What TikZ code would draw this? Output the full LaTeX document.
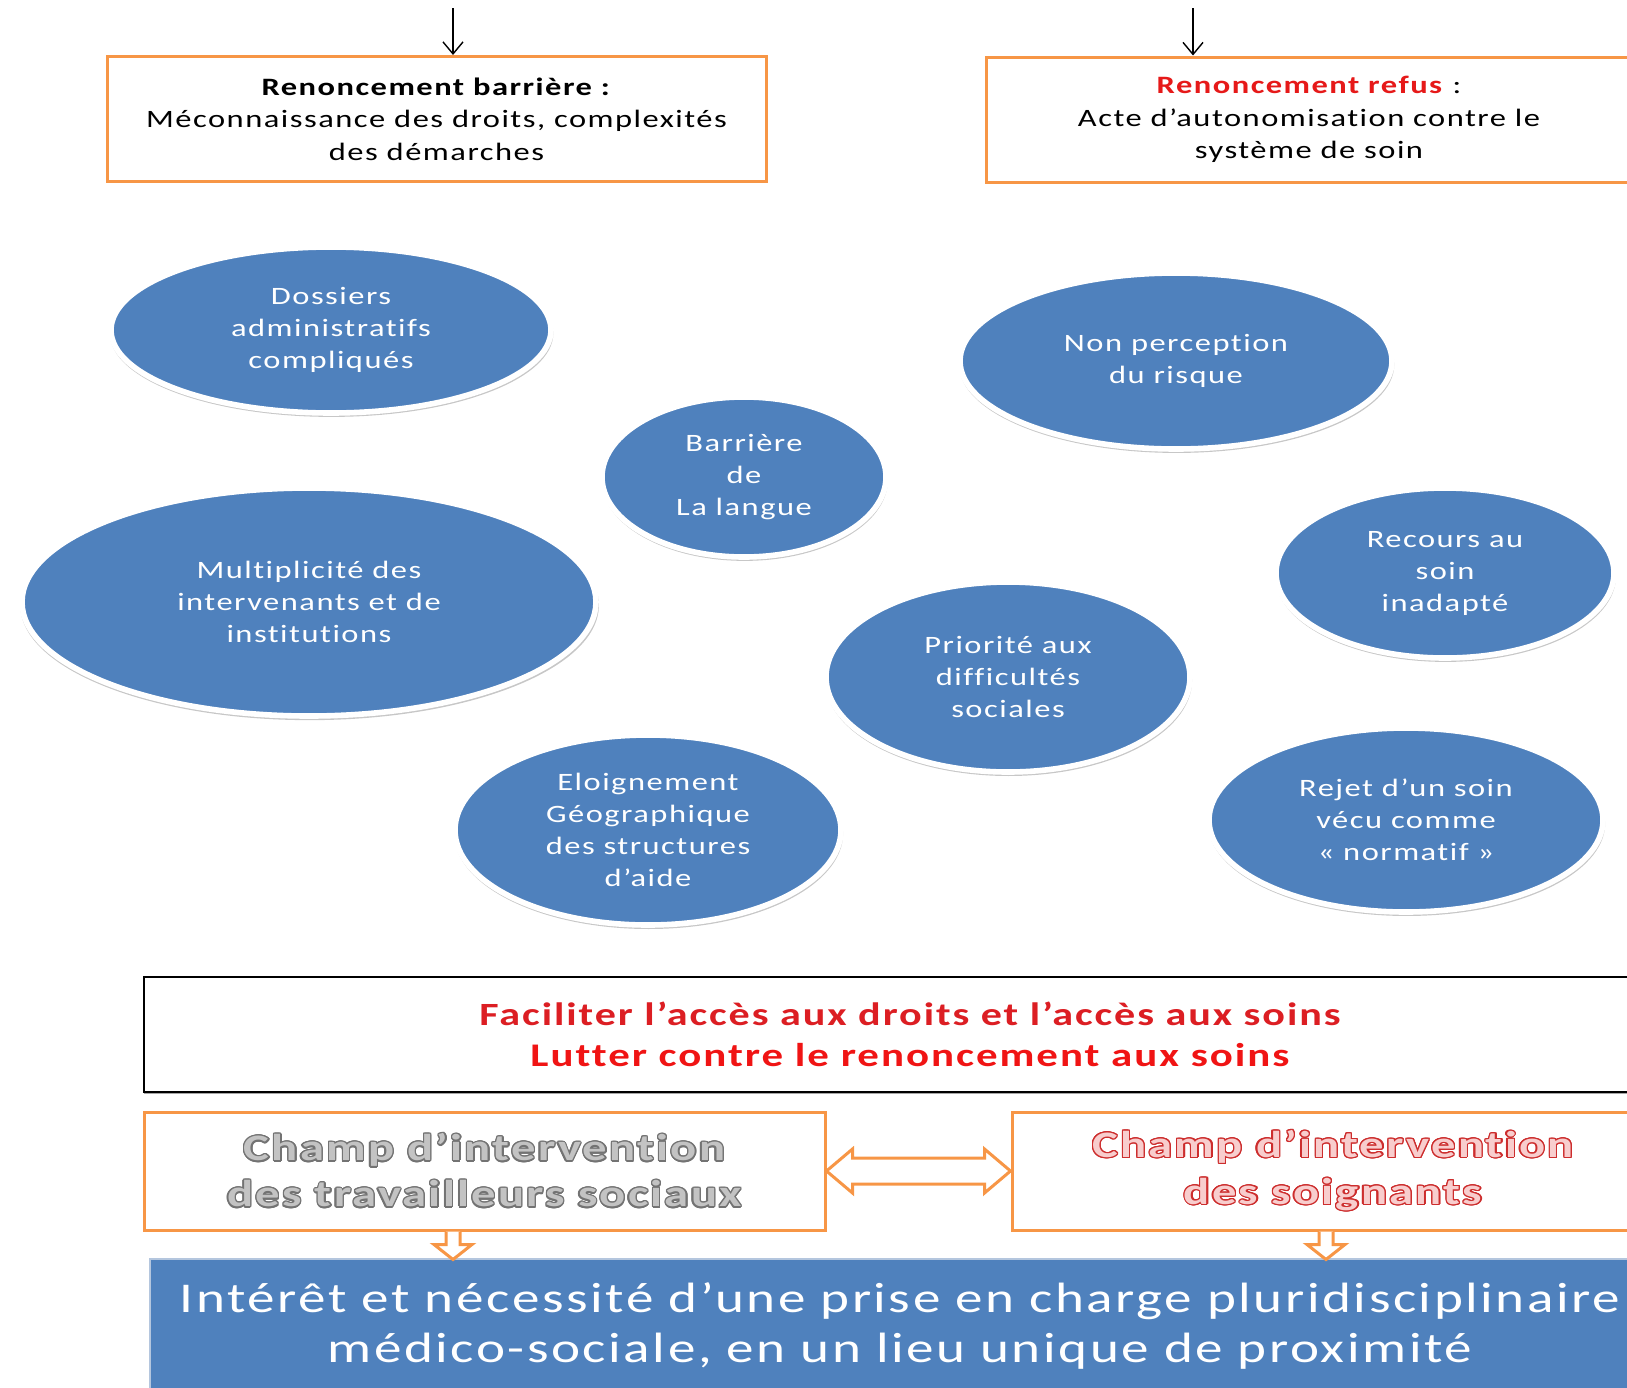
\documentclass[tikz,border=0pt]{standalone}
\usepackage{fontspec}
\setmainfont{Carlito}[FakeStretch=1.3,LetterSpace=6,Ligatures={NoCommon,NoRare,NoContextual}]
\usepackage{contour}
\contourlength{0.65pt}
\usetikzlibrary{shapes.geometric,shadows,arrows.meta,calc}
\definecolor{obblue}{RGB}{79,129,189}
\definecolor{oorange}{RGB}{247,150,70}
\definecolor{ored}{RGB}{230,25,25}
\definecolor{ored2}{RGB}{220,30,35}
\definecolor{ored3}{RGB}{240,20,20}
\definecolor{cgrayin}{RGB}{195,195,195}
\definecolor{cgrayout}{RGB}{115,115,115}
\definecolor{credin}{RGB}{248,205,205}
\definecolor{credout}{RGB}{205,45,45}
\definecolor{rimblue}{RGB}{180,198,222}
\newcommand\ellfont{\fontsize{12.5}{16}\selectfont}
\newcommand\boxfont{\fontsize{12.5}{16.2}\selectfont}
\tikzset{
  obox/.style={draw=oorange,line width=1.5pt,fill=white,align=center,inner sep=2pt,font=\boxfont},
  blob/.style={ellipse,fill=obblue,draw=white,line width=2.8pt,
    drop shadow={shadow xshift=0.3pt,shadow yshift=-1.6pt,shadow scale=1.008,opacity=0.22,fill=black},
    text=white,align=center,inner sep=0pt,font=\ellfont},
  toparr/.style={line width=0.7pt,-{Straight Barb[length=6pt,width=10pt]}},
  harrow/.style={draw=oorange,fill=white,line width=1.5pt,line join=miter},
}
\begin{document}
\begin{tikzpicture}[x=0.5pt,y=-0.5pt]
\useasboundingbox (0,0) rectangle (1627,1387);
\clip (0,0) rectangle (1627,1387);

% top boxes
\node[obox,minimum width=329.5pt,minimum height=62.5pt] (b1) at (436.5,119)
  {\textbf{Renoncement barrière :}\\Méconnaissance des droits, complexités\\des démarches};
\node[obox,minimum width=323pt,minimum height=62.5pt] (b2) at (1309,119.5)
  {{\color{ored}\textbf{Renoncement refus}} :\\Acte d’autonomisation contre le\\système de soin};
\coordinate (t1) at (453,8);
\coordinate (t2) at (1193,8);
\draw[toparr] (t1) -- (t1 |- b1.north);
\draw[toparr] (t2) -- (t2 |- b2.north);

% ellipses
\node[blob,minimum width=220pt,minimum height=83pt] (e1) at (331,330) {Dossiers\\administratifs\\compliqués};
\node[blob,minimum width=216pt,minimum height=88pt] (e2) at (1176,361) {Non perception\\du risque};
\node[blob,minimum width=142pt,minimum height=80pt] (e3) at (744,477) {Barrière\\de\\La langue};
\node[blob,minimum width=287pt,minimum height=114pt] (e4) at (309,602) {Multiplicité des\\intervenants et de\\institutions};
\node[blob,minimum width=169pt,minimum height=85pt] (e5) at (1445,573) {Recours au\\soin\\inadapté};
\node[blob,minimum width=182pt,minimum height=95pt] (e6) at (1008,677) {Priorité aux\\difficultés\\sociales};
\node[blob,minimum width=193pt,minimum height=95pt] (e7) at (648,830) {Eloignement\\Géographique\\des structures\\d’aide};
\node[blob,minimum width=197pt,minimum height=92pt] (e8) at (1406,820) {Rejet d’un soin\\vécu comme\\«~normatif~»};

% goal box
\node[draw=black,line width=0.8pt,fill=white,
  drop shadow={shadow xshift=0pt,shadow yshift=-1.2pt,opacity=0.35,fill=black},
  minimum width=766pt,minimum height=57.5pt,align=center,
  font=\fontsize{16.2}{20.75}\selectfont\bfseries] (goal) at (910,1034.5)
  {{\color{ored2}Faciliter l’accès aux droits et l’accès aux soins}\\{\color{ored3}\fontsize{16.5}{20.75}\selectfont Lutter contre le renoncement aux soins}};

% champ boxes
\node[obox,minimum width=340.5pt,minimum height=59pt,
  font=\fontsize{18.7}{23}\selectfont\bfseries,text=cgrayin] (cl) at (484.5,1171)
  {\contour{cgrayout}{Champ d’intervention}\\\contour{cgrayout}{des travailleurs sociaux}};
\node[obox,minimum width=321pt,minimum height=59pt,
  font=\fontsize{18.7}{23.5}\selectfont\bfseries,text=credin] (cr) at (1333,1171)
  {\contour{credout}{Champ d’intervention}\\\contour{credout}{des soignants}};

% double arrow
\draw[harrow] (cl.east) -- ++(26,-22) -- ++(0,9) -- ($(cr.west)+(-26,-13)$) -- ++(0,-9)
  -- (cr.west) -- ++(-26,22) -- ++(0,-9) -- ($(cl.east)+(26,13)$) -- ++(0,9) -- cycle;

% bottom box
\node[fill=obblue,draw=rimblue,line width=1pt,minimum width=750pt,minimum height=67pt,
  align=center,text=white,font=\fontsize{21.2}{25}\selectfont] (res) at (900,1326)
  {Intérêt et nécessité d’une prise en charge pluridisciplinaire\\médico-sociale, en un lieu unique de proximité};

% down arrows
\path (cl.south) ++(-31.5,0) coordinate (d1);
\path (cr.south) ++(-7,0) coordinate (d2);
\draw[harrow] (d1) ++(-7,0) -- ++(0,13) -- ++(-12,0) -- ++(19,15) -- ++(19,-15) -- ++(-12,0) -- ++(0,-13);
\draw[harrow] (d2) ++(-7,0) -- ++(0,13) -- ++(-12,0) -- ++(19,15) -- ++(19,-15) -- ++(-12,0) -- ++(0,-13);
\end{tikzpicture}
\end{document}
